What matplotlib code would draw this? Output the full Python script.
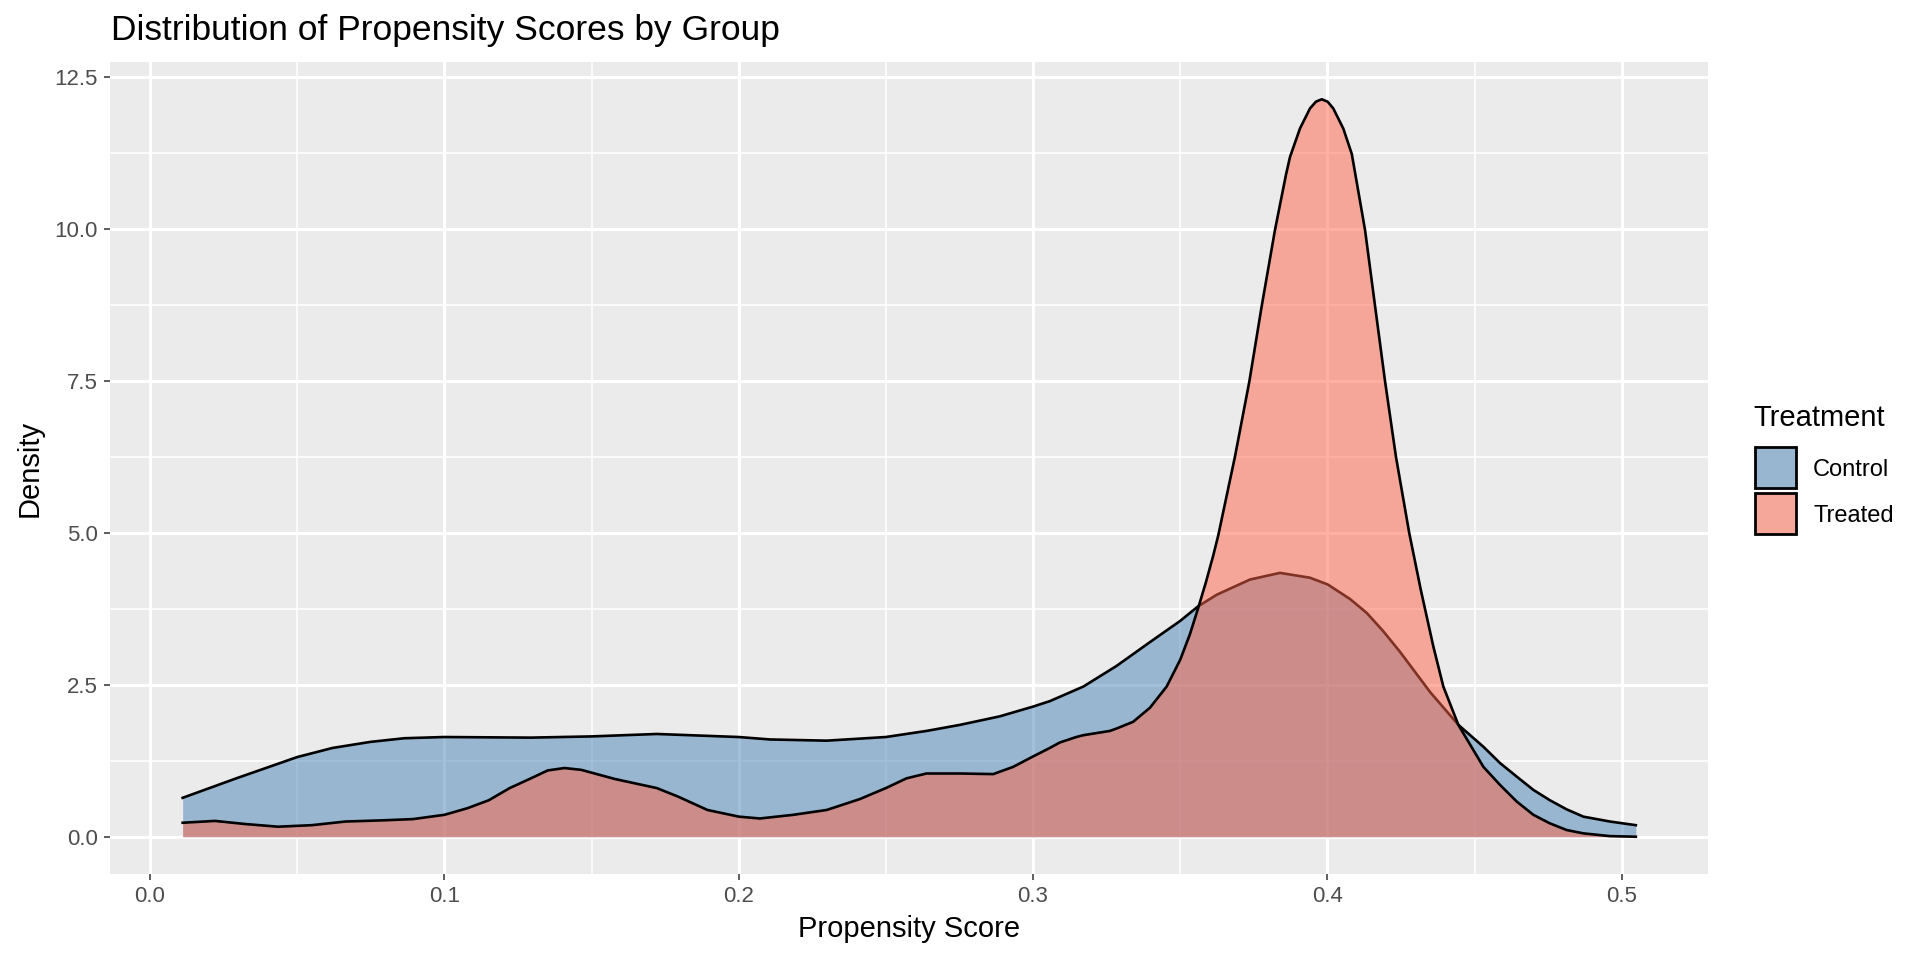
import matplotlib
matplotlib.use("Agg")
import matplotlib.pyplot as plt
import matplotlib.patches as mpatches
from matplotlib.ticker import MultipleLocator, FormatStrFormatter
from matplotlib.colors import to_rgb
import numpy as np

plt.rcParams['font.family'] = ['Liberation Sans', 'DejaVu Sans']

# ---- data ----
groups = ["Control", "Treated"]

control_x = [0.0111, 0.0293, 0.050, 0.062, 0.0749, 0.0864, 0.100, 0.1294, 0.150, 0.1722,
             0.200, 0.2106, 0.2299, 0.250, 0.2638, 0.2752, 0.2887, 0.300, 0.3057, 0.3171,
             0.3284, 0.3397, 0.350, 0.3561, 0.3624, 0.3737, 0.3839, 0.3941, 0.4001, 0.4077,
             0.4134, 0.419, 0.4247, 0.4349, 0.4445, 0.453, 0.4587, 0.4643, 0.470, 0.4756,
             0.4813, 0.487, 0.496, 0.5048]
control_y = [0.64, 0.96, 1.31, 1.46, 1.56, 1.62, 1.64, 1.63, 1.65, 1.69,
             1.64, 1.60, 1.58, 1.64, 1.74, 1.84, 1.98, 2.14, 2.23, 2.47,
             2.81, 3.20, 3.55, 3.79, 3.98, 4.23, 4.34, 4.26, 4.15, 3.91,
             3.68, 3.38, 3.04, 2.38, 1.84, 1.48, 1.21, 0.99, 0.77, 0.60,
             0.45, 0.33, 0.25, 0.19]

treated_x = [0.0111, 0.0221, 0.0321, 0.0435, 0.055, 0.0664, 0.0793, 0.0893, 0.100, 0.1079,
             0.1151, 0.1222, 0.1294, 0.1351, 0.1408, 0.1465, 0.1579, 0.1722, 0.1794, 0.1894,
             0.2001, 0.2072, 0.2185, 0.2299, 0.2412, 0.250, 0.257, 0.2638, 0.2752, 0.2865,
             0.2933, 0.300, 0.3057, 0.3091, 0.3147, 0.3171, 0.3261, 0.3284, 0.334, 0.3397,
             0.3454, 0.350, 0.3533, 0.3561, 0.3587, 0.3612, 0.3629, 0.3686, 0.3735, 0.3777,
             0.3822, 0.3859, 0.3873, 0.3907, 0.3941, 0.3961, 0.3981, 0.4001, 0.402, 0.4054,
             0.4083, 0.4128, 0.4162, 0.4196, 0.4233, 0.4278, 0.4317, 0.436, 0.4394, 0.4445,
             0.453, 0.4587, 0.4643, 0.470, 0.4756, 0.4813, 0.487, 0.496, 0.5048]
treated_y = [0.23, 0.26, 0.21, 0.165, 0.19, 0.25, 0.27, 0.29, 0.36, 0.47,
             0.60, 0.80, 0.96, 1.09, 1.13, 1.10, 0.95, 0.80, 0.66, 0.44,
             0.33, 0.30, 0.36, 0.44, 0.62, 0.80, 0.96, 1.04, 1.04, 1.03,
             1.15, 1.32, 1.46, 1.55, 1.64, 1.67, 1.74, 1.78, 1.89, 2.12,
             2.47, 2.91, 3.33, 3.76, 4.18, 4.62, 4.95, 6.25, 7.49, 8.73,
             9.98, 10.88, 11.18, 11.65, 11.98, 12.09, 12.13, 12.09, 11.98, 11.65,
             11.23, 9.98, 8.73, 7.49, 6.25, 5.00, 4.07, 3.13, 2.47, 1.84,
             1.15, 0.85, 0.58, 0.36, 0.22, 0.11, 0.055, 0.01, 0.0]

x_ticks = [0.0, 0.1, 0.2, 0.3, 0.4, 0.5]
y_ticks = [0.0, 2.5, 5.0, 7.5, 10.0, 12.5]

# ---- style ----
fill_colors = {"Control": "steelblue", "Treated": "tomato"}
alpha = 0.5
panel_bg = "#EBEBEB"
W, H = 1920, 960

fig = plt.figure(figsize=(19.2, 9.6), dpi=100)
ax = fig.add_axes([110/W, 1-873.6/H, (1708.5-110)/W, (873.6-62.4)/H])
ax.set_facecolor(panel_bg)

series = {"Control": (control_x, control_y), "Treated": (treated_x, treated_y)}
z = 2.0
for g in groups:
    xs, ys = series[g]
    ax.fill_between(xs, 0, ys, color=fill_colors[g], alpha=alpha, linewidth=0, zorder=z)
    ax.plot(xs, ys, color="black", lw=1.9, zorder=z + 0.1, solid_joinstyle="round")
    z += 0.2

# limits with ggplot-like 5% expansion
allx = control_x + treated_x
ally = control_y + treated_y
xr = max(allx) - min(allx)
yr = max(ally) - min(ally)
ax.set_xlim(min(allx) - 0.05*xr, max(allx) + 0.05*xr)
ax.set_ylim(min(ally) - 0.05*yr, max(ally) + 0.05*yr)

ax.xaxis.set_minor_locator(MultipleLocator(0.05))
ax.yaxis.set_minor_locator(MultipleLocator(1.25))
ax.set_xticks(x_ticks)
ax.set_yticks(y_ticks)
ax.xaxis.set_major_formatter(FormatStrFormatter('%.1f'))
ax.yaxis.set_major_formatter(FormatStrFormatter('%.1f'))

ax.grid(which="major", color="white", lw=2.2, zorder=1)
ax.grid(which="minor", color="white", lw=1.1, zorder=1)
ax.set_axisbelow(True)
for s in ax.spines.values():
    s.set_visible(False)
ax.tick_params(which="major", length=4.3, width=1.1, color="#333333",
               labelsize=16, labelcolor="#4D4D4D", pad=4.5)
ax.tick_params(which="minor", length=0)

ax.set_xlabel("Propensity Score", fontsize=21, labelpad=6)
ax.set_ylabel("Density", fontsize=21, labelpad=8)

fig.text(111/W, 1-40/H, "Distribution of Propensity Scores by Group",
         fontsize=25.5, ha="left", va="baseline")

# ---- legend (ggplot-style, drawn in figure pixel positions) ----
def blend(c, a, bg):
    c = np.array(to_rgb(c)); b = np.array(to_rgb(bg))
    return tuple(a*c + (1-a)*b)

fig.text(1753/W, 1-425.7/H, "Treatment", fontsize=21, ha="left", va="baseline")
key_top = 445.0
key_size = 44.0
key_gap = 2.5
for i, g in enumerate(groups):
    top = key_top + i*(key_size + key_gap)
    rect = mpatches.Rectangle((1754.5/W, 1-(top+key_size-1.5)/H),
                              (key_size-3)/W, (key_size-3)/H,
                              transform=fig.transFigure,
                              facecolor=blend(fill_colors[g], alpha, panel_bg),
                              edgecolor="black", linewidth=2.0)
    fig.add_artist(rect)
    fig.text(1813/W, 1-(top+key_size/2)/H, g, fontsize=17, ha="left", va="center_baseline")

fig.savefig("out.png", dpi=100)
